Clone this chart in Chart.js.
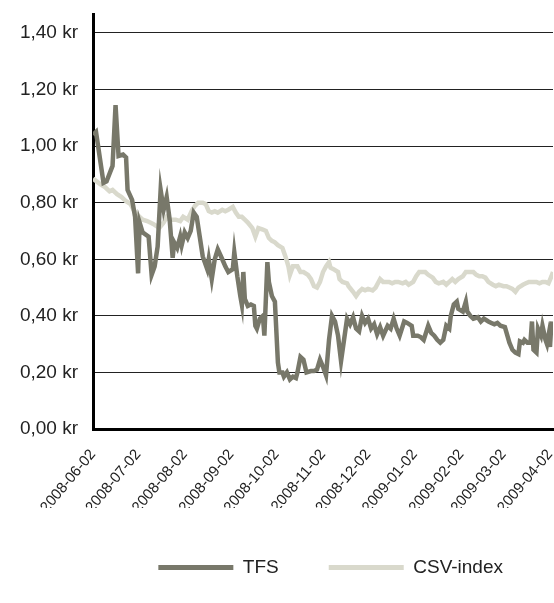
<!DOCTYPE html>
<html>
<head>
<meta charset="utf-8">
<script src="https://cdn.jsdelivr.net/npm/chart.js@4.4.1/dist/chart.umd.min.js"></script>
<style>
  html, body { margin: 0; padding: 0; background: #fff; }
</style>
</head>
<body>
<canvas id="kursChart" width="554" height="603"></canvas>
<script>
// Kurs TFS mot CSV-index, juni 2008 - april 2009
const startDate = '2008-06-02';
const monthTicks = ['2008-06-02', '2008-07-02', '2008-08-02', '2008-09-02', '2008-10-02', '2008-11-02',
  '2008-12-02', '2009-01-02', '2009-02-02', '2009-03-02', '2009-04-02'];
const yTicks = [0, 0.2, 0.4, 0.6, 0.8, 1.0, 1.2, 1.4];

// days counted from startDate
const tfsDays = [0, 2, 7, 9, 13, 15, 17, 20, 22, 23, 26, 28, 30, 31, 33, 37, 39, 41, 43, 45, 47, 49, 51, 53, 54,
  56, 58, 59, 61, 63, 65, 67, 69, 71, 73, 76, 77, 79, 81, 83, 86, 88, 90, 93, 94, 96, 98, 99, 100, 101, 103, 105,
  107, 108, 109, 111, 113, 114, 116, 117, 119, 121, 123, 124, 126, 127, 129, 131, 133, 135, 136, 138, 140, 142,
  145, 147, 149, 151, 153, 155, 157, 159, 161, 163, 165, 167, 169, 171, 173, 175, 177, 179, 181, 183, 185, 187,
  189, 191, 193, 196, 198, 200, 202, 204, 207, 209, 212, 213, 216, 218, 220, 223, 225, 227, 229, 231, 233, 235,
  237, 238, 240, 242, 243, 246, 248, 249, 251, 253, 256, 258, 260, 263, 265, 267, 269, 271, 274, 277, 279, 281,
  283, 284, 286, 287, 289, 291, 292, 293, 295, 296, 298, 299, 301, 302, 303, 304, 305];
const tfsPrice = [1.04, 1.05, 0.87, 0.875, 0.93, 1.145, 0.965, 0.97, 0.96, 0.845, 0.81, 0.75, 0.55, 0.73, 0.695,
  0.68, 0.545, 0.575, 0.645, 0.845, 0.775, 0.82, 0.74, 0.605, 0.66, 0.64, 0.68, 0.65, 0.695, 0.675, 0.70, 0.765,
  0.75, 0.68, 0.61, 0.565, 0.60, 0.53, 0.60, 0.635, 0.60, 0.575, 0.555, 0.565, 0.625, 0.54, 0.47, 0.44, 0.555,
  0.46, 0.435, 0.44, 0.435, 0.365, 0.355, 0.39, 0.40, 0.33, 0.59, 0.52, 0.47, 0.45, 0.235, 0.20, 0.20, 0.185,
  0.20, 0.175, 0.185, 0.18, 0.20, 0.255, 0.245, 0.20, 0.205, 0.205, 0.21, 0.245, 0.22, 0.19, 0.315, 0.40, 0.38,
  0.33, 0.24, 0.315, 0.39, 0.37, 0.395, 0.355, 0.345, 0.40, 0.375, 0.39, 0.355, 0.37, 0.335, 0.36, 0.33, 0.365,
  0.355, 0.39, 0.355, 0.33, 0.38, 0.375, 0.365, 0.33, 0.33, 0.325, 0.315, 0.365, 0.34, 0.33, 0.315, 0.305, 0.315,
  0.365, 0.355, 0.40, 0.44, 0.45, 0.425, 0.415, 0.45, 0.415, 0.40, 0.39, 0.395, 0.38, 0.39, 0.38, 0.375, 0.37,
  0.375, 0.365, 0.36, 0.305, 0.28, 0.27, 0.265, 0.31, 0.305, 0.315, 0.305, 0.305, 0.38, 0.28, 0.27, 0.355, 0.33,
  0.365, 0.315, 0.30, 0.33, 0.29, 0.38];

const csvDays = [0, 5, 8, 11, 13, 16, 19, 22, 25, 27, 29, 31, 33, 36, 38, 40, 43, 44, 47, 49, 51, 55, 58, 60, 63,
  66, 68, 70, 73, 75, 77, 79, 81, 83, 86, 88, 90, 93, 95, 97, 99, 101, 103, 106, 108, 110, 113, 115, 117, 119,
  121, 123, 126, 128, 130, 131, 133, 136, 138, 140, 143, 145, 147, 149, 151, 153, 155, 157, 158, 160, 163, 164,
  166, 169, 170, 173, 175, 177, 179, 181, 183, 186, 188, 191, 193, 195, 197, 199, 201, 203, 206, 208, 210, 213,
  215, 217, 219, 221, 223, 226, 228, 230, 233, 235, 237, 239, 241, 243, 246, 248, 250, 253, 255, 257, 259, 261,
  263, 266, 268, 270, 273, 275, 277, 279, 281, 283, 286, 288, 290, 293, 295, 297, 299, 301, 303, 305, 306];
const csvIndex = [0.885, 0.865, 0.855, 0.84, 0.845, 0.83, 0.82, 0.805, 0.795, 0.775, 0.76, 0.75, 0.74, 0.735,
  0.73, 0.725, 0.715, 0.71, 0.73, 0.75, 0.74, 0.74, 0.735, 0.75, 0.74, 0.775, 0.79, 0.80, 0.80, 0.795, 0.77,
  0.765, 0.77, 0.765, 0.775, 0.77, 0.775, 0.785, 0.765, 0.75, 0.75, 0.74, 0.73, 0.71, 0.68, 0.71, 0.705, 0.70,
  0.675, 0.665, 0.66, 0.65, 0.64, 0.61, 0.575, 0.545, 0.575, 0.575, 0.555, 0.555, 0.545, 0.53, 0.505, 0.50, 0.52,
  0.555, 0.575, 0.59, 0.57, 0.565, 0.555, 0.53, 0.52, 0.515, 0.505, 0.485, 0.47, 0.485, 0.495, 0.49, 0.495, 0.49,
  0.50, 0.53, 0.52, 0.52, 0.52, 0.515, 0.52, 0.52, 0.515, 0.52, 0.51, 0.52, 0.54, 0.555, 0.555, 0.555, 0.545,
  0.535, 0.52, 0.515, 0.52, 0.51, 0.52, 0.53, 0.52, 0.53, 0.54, 0.555, 0.555, 0.555, 0.545, 0.54, 0.54, 0.535,
  0.52, 0.51, 0.505, 0.51, 0.505, 0.505, 0.50, 0.495, 0.485, 0.50, 0.51, 0.515, 0.52, 0.52, 0.52, 0.515, 0.52,
  0.52, 0.515, 0.54, 0.555];

const tfsColor = '#78786a';
const csvColor = '#d9d9cc';
const fontFamily = "'Liberation Sans', Arial, sans-serif";

const msPerDay = 86400000;
function dayOf(s) {
  return Math.round((Date.parse(s) - Date.parse(startDate)) / msPerDay);
}
const tickDays = monthTicks.map(dayOf);

function toPoints(days, values) {
  return days.map((d, i) => ({ x: d, y: values[i] }));
}

const ctx = document.getElementById('kursChart');
new Chart(ctx, {
  type: 'line',
  data: {
    datasets: [
      {
        label: 'TFS',
        data: toPoints(tfsDays, tfsPrice),
        borderColor: tfsColor,
        backgroundColor: tfsColor,
        borderWidth: 4.5,
        pointRadius: 0,
        tension: 0
      },
      {
        label: 'CSV-index',
        data: toPoints(csvDays, csvIndex),
        borderColor: csvColor,
        backgroundColor: csvColor,
        borderWidth: 4.5,
        pointRadius: 0,
        tension: 0
      }
    ]
  },
  options: {
    responsive: false,
    animation: false,
    layout: {
      padding: { left: 14, top: 14, right: 1, bottom: 16 }
    },
    plugins: {
      tooltip: { enabled: false },
      legend: {
        position: 'bottom',
        align: 'end',
        labels: {
          boxWidth: 75,
          boxHeight: 5,
          padding: 50,
          color: '#222',
          font: { family: fontFamily, size: 19 },
          generateLabels: function (chart) {
            const items = Chart.defaults.plugins.legend.labels.generateLabels(chart);
            items.forEach(item => { item.lineWidth = 0; });
            return items;
          }
        }
      }
    },
    scales: {
      x: {
        type: 'linear',
        min: 0,
        max: 306,
        grid: { display: false },
        border: { display: true, color: '#000', width: 3 },
        afterBuildTicks: function (scale) {
          scale.ticks = tickDays.map(v => ({ value: v }));
        },
        afterFit: function (scale) {
          scale.height = 79;
          // rotated labels hang to the left, the plot may run to the edge
          scale.paddingLeft = 0;
          scale.paddingRight = 0;
        },
        ticks: {
          autoSkip: false,
          minRotation: 50,
          maxRotation: 50,
          padding: 9,
          color: '#222',
          font: { family: fontFamily, size: 15 },
          callback: function (value) {
            return monthTicks[tickDays.indexOf(value)];
          }
        }
      },
      y: {
        min: 0,
        max: 1.467,
        grid: { color: '#222', lineWidth: 1, drawTicks: false },
        border: { display: true, color: '#000', width: 3 },
        afterBuildTicks: function (scale) {
          scale.ticks = yTicks.map(v => ({ value: v }));
        },
        afterFit: function (scale) {
          scale.width = 79;
          // top tick sits below the axis end, so no extra room is needed
          scale.paddingTop = 0;
          scale.paddingBottom = 0;
        },
        ticks: {
          padding: 15,
          color: '#222',
          font: { family: fontFamily, size: 19 },
          callback: function (value) {
            return value.toFixed(2).replace('.', ',') + ' kr';
          }
        }
      }
    }
  }
});
</script>
</body>
</html>
